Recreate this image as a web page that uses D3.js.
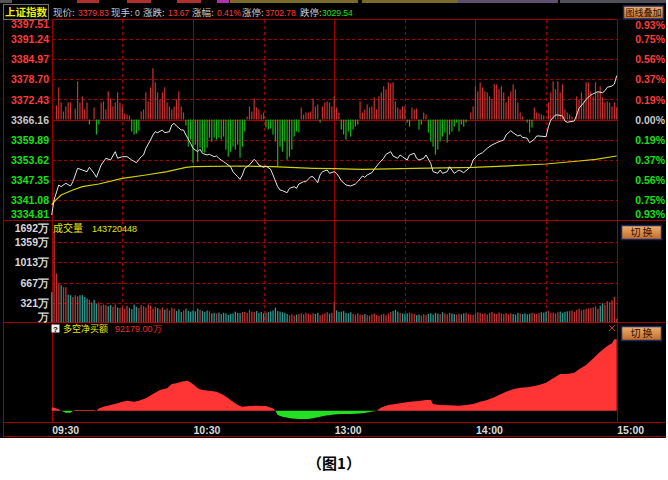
<!DOCTYPE html>
<html><head><meta charset="utf-8">
<script src="https://cdn.jsdelivr.net/npm/d3@7/dist/d3.min.js"></script>
<style>body{margin:0;background:#fff;}svg{display:block;}</style>
</head><body>
<svg id="c" width="668" height="480"></svg>
<script>
// ---------------- DATA ----------------
const instrument = "上证指数";
const quoteLabels = ["现价:", "现手:", "涨跌:", "涨幅:", "涨停:", "跌停:"];
const quoteValues = ["3379.83", "0", "13.67", "0.41%", "3702.78", "3029.54"];
const quoteTone = ["up", "flat", "up", "up", "up", "down"];

const preClose = 3366.16;
const priceTicks = [3397.51, 3391.24, 3384.97, 3378.70, 3372.43, 3366.16, 3359.89, 3353.62, 3347.35, 3341.08, 3334.81];
const pctTicks = ["0.93%", "0.75%", "0.56%", "0.37%", "0.19%", "0.00%", "0.19%", "0.37%", "0.56%", "0.75%", "0.93%"];
const timeTicks = [0, 60, 120, 180, 240];
const timeLabels = ["09:30", "10:30", "13:00", "14:00", "15:00"];
const gridMinutes = [30, 60, 90, 120, 150, 180, 210];

// [minute, price]
const pricePts = [[0,3336.37],[1,3341.05],[3,3345.73],[4,3345.20],[6,3346.26],[8,3345.42],[9,3346.76],[11,3350.94],[13,3350.41],[15,3349.88],[16,3351.25],[18,3349.38],[19,3348.13],[21,3351.97],[23,3354.06],[25,3353.53],[27,3356.12],[28,3354.06],[30,3354.56],[32,3354.56],[34,3353.53],[36,3352.68],[38,3354.56],[39,3355.09],[40,3357.18],[42,3359.77],[43,3361.33],[44,3362.36],[45,3362.04],[47,3362.89],[48,3362.04],[50,3362.36],[51,3364.44],[52,3364.98],[53,3364.13],[55,3362.89],[56,3362.89],[57,3361.33],[59,3358.74],[60,3357.18],[62,3356.12],[63,3356.86],[64,3355.62],[66,3355.09],[67,3355.31],[69,3354.56],[70,3354.77],[71,3354.06],[73,3353.00],[74,3352.50],[76,3351.44],[77,3349.88],[79,3348.32],[80,3347.51],[81,3348.85],[82,3350.94],[84,3351.97],[86,3353.75],[87,3353.00],[88,3351.97],[90,3351.25],[91,3351.66],[93,3350.63],[94,3348.85],[96,3345.20],[97,3344.17],[98,3343.95],[100,3343.33],[101,3344.70],[103,3345.20],[104,3344.70],[105,3346.04],[107,3346.76],[108,3346.76],[110,3348.32],[111,3348.32],[113,3346.45],[114,3348.85],[115,3349.88],[117,3350.41],[118,3349.38],[120,3349.88],[121,3349.38],[122,3348.32],[123,3347.07],[125,3345.73],[127,3345.42],[129,3346.04],[130,3346.76],[132,3348.54],[133,3348.13],[134,3348.85],[136,3349.57],[137,3350.63],[139,3352.50],[141,3354.06],[142,3355.31],[144,3356.12],[145,3354.77],[147,3354.06],[148,3355.09],[149,3354.56],[151,3353.53],[152,3355.09],[154,3355.62],[155,3354.06],[156,3353.53],[158,3354.06],[159,3355.09],[161,3352.50],[162,3349.88],[164,3349.38],[165,3350.41],[166,3349.38],[168,3349.88],[169,3351.44],[171,3349.38],[172,3349.88],[173,3350.41],[175,3349.57],[176,3350.19],[178,3351.44],[179,3353.53],[181,3355.09],[183,3355.80],[185,3357.18],[187,3358.21],[189,3358.92],[190,3359.24],[192,3359.77],[193,3361.33],[195,3362.67],[196,3362.04],[198,3361.01],[199,3361.33],[200,3360.61],[202,3360.30],[203,3358.92],[205,3359.98],[206,3361.01],[207,3361.01],[210,3360.80],[211,3363.91],[212,3366.00],[214,3367.56],[215,3367.56],[217,3367.25],[218,3365.69],[219,3365.29],[222,3365.69],[223,3367.56],[224,3369.65],[226,3371.40],[227,3372.46],[229,3373.80],[231,3374.52],[232,3374.83],[234,3374.52],[235,3375.14],[236,3376.21],[238,3376.61],[239,3377.23],[240,3379.83]];

// [minute, average price]
const avgPts = [[0,3339.5],[1,3340.52],[4,3342.61],[9,3344.17],[13,3345.20],[20,3346.04],[30,3347.82],[40,3348.85],[49,3349.88],[57,3351.25],[60,3351.44],[80,3351.66],[94,3351.44],[111,3350.94],[120,3350.81],[132,3350.63],[154,3350.94],[179,3351.25],[196,3351.75],[210,3352.28],[224,3353.21],[231,3353.74],[240,3354.78]];

// [minute, buy/sell strength]
const strengthPts = [[2,14],[3,32],[4,17],[5,8],[6,13],[7,17],[8,17],[10,11],[11,38],[12,17],[13,23],[14,10],[15,17],[16,-5],[18,12],[19,-15],[20,-5],[21,17],[22,18],[23,10],[24,28],[25,21],[26,13],[27,17],[28,27],[29,17],[30,13],[31,6],[32,5],[33,4],[34,-12],[35,-15],[36,-14],[37,-11],[38,8],[39,10],[40,27],[41,18],[42,32],[43,51],[44,37],[45,27],[46,20],[47,27],[48,32],[49,17],[50,13],[51,10],[52,13],[53,20],[54,28],[55,13],[56,7],[57,-6],[58,-27],[59,-20],[60,-43],[61,-25],[62,-42],[63,-28],[64,-32],[65,-33],[66,-28],[67,-18],[68,-22],[69,-18],[70,-20],[71,-18],[72,-20],[73,-17],[74,-30],[75,-37],[76,-32],[77,-27],[78,-30],[79,-25],[80,-38],[81,-27],[82,-12],[83,3],[84,13],[85,8],[86,21],[87,12],[88,10],[89,5],[90,7],[91,-8],[92,-10],[93,-9],[94,-15],[95,-22],[96,-47],[97,-27],[98,-32],[99,-22],[100,-40],[101,-37],[102,-30],[103,-17],[104,-12],[105,-13],[106,12],[107,5],[108,7],[109,7],[110,8],[111,21],[112,13],[113,15],[114,-3],[115,13],[116,17],[117,18],[118,17],[119,13],[120,23],[121,12],[122,7],[123,-10],[124,-15],[125,-20],[126,-12],[127,-17],[128,-10],[129,-7],[130,-5],[131,18],[132,7],[133,10],[134,15],[135,12],[136,13],[137,22],[138,10],[139,23],[140,27],[141,33],[142,30],[143,37],[144,36],[145,37],[146,18],[147,12],[148,10],[149,13],[150,13],[151,-3],[152,-7],[153,12],[154,10],[155,11],[156,-10],[157,-5],[158,7],[159,5],[160,-13],[161,-22],[162,-27],[163,-35],[164,-30],[165,-22],[166,-17],[167,-13],[168,-23],[169,-15],[170,-12],[171,-7],[172,-3],[173,-12],[174,-5],[175,-7],[176,-3],[178,7],[179,13],[180,33],[181,28],[182,37],[183,32],[184,28],[185,27],[186,23],[187,20],[188,35],[189,35],[190,30],[191,33],[192,27],[193,17],[194,23],[195,28],[196,35],[197,30],[198,17],[199,7],[200,3],[202,-3],[203,-13],[204,-8],[205,12],[206,7],[207,6],[208,5],[209,4],[211,17],[212,27],[213,38],[214,30],[215,38],[216,27],[217,35],[218,10],[219,7],[220,5],[221,3],[223,23],[224,20],[225,27],[226,18],[227,37],[228,37],[229,28],[230,23],[231,37],[232,27],[233,33],[234,22],[235,17],[236,18],[237,17],[238,13],[239,17],[240,12]];

// volume per minute (万)
const volumeTotal = "143720448";
const volTicks = [1692, 1359, 1013, 667, 321, 0];
const volLabels = ["1692万", "1359万", "1013万", "667万", "321万", "万"];
const volume = [508,1518,824,655,626,592,592,468,457,428,
457,440,457,457,428,400,380,333,380,310,
333,288,300,288,270,290,260,300,250,240,
265,230,280,245,220,300,260,240,290,270,
250,300,280,230,260,240,220,250,210,235,
200,245,230,190,220,175,200,231,190,180,
200,185,231,210,190,175,200,185,150,160,
150,165,140,160,150,125,140,150,180,160,
155,170,175,160,210,180,175,190,160,175,
150,165,170,185,200,248,190,180,170,160,
140,120,135,115,130,140,150,135,160,145,
130,150,140,160,120,135,150,170,145,160,
344,200,175,180,190,160,150,170,140,130,
150,130,125,140,120,115,135,150,125,110,
130,140,120,150,175,190,210,180,160,150,
140,150,165,150,140,120,130,115,135,125,
140,150,130,160,145,140,170,150,135,160,
150,140,130,145,135,150,160,140,130,125,
150,170,160,140,150,130,160,175,150,140,
165,150,140,155,135,150,140,130,160,150,
140,150,135,145,160,150,140,155,170,165,
175,190,160,165,150,170,180,160,175,185,
190,200,175,210,230,200,215,230,235,240,
250,270,230,280,320,300,355,340,372,428,
60];

// net buy amount (万), [minute, value]
const flowTitle = "多空净买额";
const flowLast = "92179.00万";
const flowPts = [[0,4260],[1,4260],[2,2970],[3,1720],[4,0],[5,-1300],[6,-2580],[8,-2580],[9,0],[10,900],[14,900],[18,900],[19,0],[20,2970],[22,5160],[25,7320],[28,9470],[30,11620],[32,12910],[35,11620],[37,12910],[40,15920],[43,21520],[46,26680],[49,28830],[51,34430],[53,35290],[55,37440],[57,38300],[58,38300],[60,34430],[62,28830],[64,26680],[67,25820],[70,24530],[73,20230],[76,13770],[79,7320],[81,5160],[84,6030],[87,6460],[91,6030],[94,3000],[95,0],[96,-5550],[98,-7750],[102,-9940],[105,-10720],[109,-10720],[112,-9040],[116,-6460],[120,-4780],[123,-4260],[127,-4260],[131,-3490],[134,-2190],[138,0],[140,4260],[143,7320],[148,9470],[152,11620],[156,12480],[159,13770],[161,13770],[162,8610],[165,7320],[169,6890],[173,6460],[176,7320],[179,8610],[182,11620],[185,13770],[188,17220],[190,20230],[193,24530],[196,27540],[199,29690],[202,30120],[205,31860],[207,33150],[210,36150],[213,41740],[216,47340],[219,47340],[222,49060],[224,53360],[227,58950],[230,67540],[233,76170],[236,83490],[238,86930],[239,92090],[240,92179]];

// ---------------- STYLE ----------------
const C = {
  bg: "#000", grid: "#a00000", up: "#ff3b3b", down: "#18e018", flat: "#c8c8c8",
  barUp: "#c83232", barDown: "#18b418", volUp: "#c03434", volDown: "#2a9a90",
  price: "#e6e6e6", avg: "#d0d000", yellow: "#e8e800", flowUp: "#ff3535", flowDown: "#22e022"
};
const CJK = "'Noto Sans CJK SC', sans-serif";
const NUM = "'Liberation Sans', Arial, sans-serif";

const svg = d3.select("#c");
const L = 51.7, R = 616.7;
const x = d3.scaleLinear().domain([0, 240]).range([L, R]);
const yP = d3.scaleLinear().domain([3334.81, 3397.51]).range([220, 19]);
const yS = d3.scaleLinear().domain([-100, 100]).range([220, 19]);
const yV = d3.scaleLinear().domain([0, 1692]).range([322.3, 222]);
const yF = d3.scaleLinear().domain([0, 92179]).range([410.7, 339.3]);

svg.append("rect").attr("x", 0).attr("y", 0).attr("width", 666).attr("height", 438).attr("fill", C.bg);

// top tab strip
const tabs = [[0,12,"#555"],[77,22,"#b03030"],[127,24,"#b03030"],[177,24,"#b03030"],[217,12,"#b030b0"],[230,128,"#7a6a2a"],[362,96,"#7a6a2a"],[458,100,"#605070"],[560,106,"#505058"]];
svg.selectAll("rect.tab").data(tabs).join("rect").attr("class","tab")
  .attr("x", d => d[0]).attr("y", 0).attr("width", d => d[1]).attr("height", 3).attr("fill", d => d[2]);

// ---------- grid ----------
const g = svg.append("g").attr("stroke", C.grid).attr("shape-rendering", "crispEdges");
function hline(y, x1, x2, dash) { g.append("line").attr("x1", x1).attr("x2", x2).attr("y1", y).attr("y2", y).attr("stroke-dasharray", dash || null); }
function vline(xx, y1, y2, dash) { g.append("line").attr("x1", xx).attr("x2", xx).attr("y1", y1).attr("y2", y2).attr("stroke-dasharray", dash || null); }

priceTicks.slice(1, -1).forEach(v => hline(Math.round(yP(v)) + 0.5, L, R, v === preClose ? null : "3,3"));
volTicks.slice(1, -1).forEach(v => hline(Math.round(yV(v)) + 0.5, L, R, "3,3"));
gridMinutes.forEach(m => {
  const xx = Math.round(x(m)) + 0.5, solid = m % 60 === 0;
  vline(xx, 19.5, 220.5, solid ? null : "3,3");
  vline(xx, 220.5, 322.5, solid ? null : "3,3");
});
hline(19.5, L, R);
hline(220.5, 3, 666);
hline(322.5, 3, 666);
hline(422.5, 3, 666);
hline(436.5, 3, 666);
vline(3.5, 19, 437);
vline(Math.round(L) + 0.5, 19.5, 422.5);
vline(Math.round(R) + 0.5, 19.5, 422.5);

// ---------- strength bars ----------
svg.append("g").selectAll("rect").data(strengthPts).join("rect")
  .attr("x", d => x(d[0]) - 0.6).attr("width", 1.2)
  .attr("y", d => Math.min(yS(d[1]), yS(0)))
  .attr("height", d => Math.abs(yS(d[1]) - yS(0)))
  .attr("fill", d => d[1] >= 0 ? C.barUp : C.barDown);

// ---------- lines ----------
const line = d3.line().x(d => x(d[0])).y(d => yP(d[1]));
svg.append("path").attr("d", line(avgPts)).attr("fill", "none").attr("stroke", C.avg).attr("stroke-width", 1.2);
svg.append("path").attr("d", line(pricePts)).attr("fill", "none").attr("stroke", C.price).attr("stroke-width", 1);

// ---------- volume ----------
const priceAt = d3.scaleLinear().domain(pricePts.map(d => d[0])).range(pricePts.map(d => d[1]));
svg.append("g").selectAll("rect").data(volume).join("rect")
  .attr("x", (d, i) => x(i) - 0.6).attr("width", 1.3)
  .attr("y", d => yV(d)).attr("height", d => yV(0) - yV(d))
  .attr("fill", (d, i) => (i > 0 && priceAt(i) >= priceAt(i - 1)) ? C.volUp : C.volDown);

// ---------- money flow ----------
const areaPos = d3.area().x(d => x(d[0])).y0(yF(0)).y1(d => yF(Math.max(0, d[1])));
const areaNeg = d3.area().x(d => x(d[0])).y0(yF(0)).y1(d => yF(Math.min(0, d[1])));
svg.append("path").attr("d", areaPos(flowPts)).attr("fill", C.flowUp);
svg.append("path").attr("d", areaNeg(flowPts)).attr("fill", C.flowDown);

// ---------- axes ----------
const toneOf = v => v > preClose + 0.001 ? C.up : (v < preClose - 0.001 ? C.down : C.flat);
const axL = svg.append("g").attr("transform", "translate(49,0)")
  .call(d3.axisLeft(yP).tickValues(priceTicks).tickSize(0).tickPadding(0).tickFormat(d3.format(".2f")));
axL.select(".domain").remove();
axL.selectAll("text").attr("fill", d => toneOf(d)).attr("font-family", NUM).attr("font-weight", "bold").attr("font-size", 10.5)
  .attr("dy", d => d === priceTicks[0] ? "0.85em" : d === priceTicks[priceTicks.length - 1] ? "-0.25em" : "0.35em");

const axR = svg.append("g").attr("transform", "translate(665,0)")
  .call(d3.axisLeft(yP).tickValues(priceTicks).tickSize(0).tickPadding(0).tickFormat((d, i) => pctTicks[i]));
axR.select(".domain").remove();
axR.selectAll("text").attr("fill", d => toneOf(d)).attr("font-family", NUM).attr("font-weight", "bold").attr("font-size", 10.5)
  .attr("dy", d => d === priceTicks[0] ? "0.9em" : d === priceTicks[priceTicks.length - 1] ? "-0.2em" : "0.35em");

const axV = svg.append("g").attr("transform", "translate(49,0)")
  .call(d3.axisLeft(yV).tickValues(volTicks).tickSize(0).tickPadding(0).tickFormat((d, i) => volLabels[i]));
axV.select(".domain").remove();
axV.selectAll("text").attr("fill", "#d8d8d8").attr("font-family", NUM).attr("font-weight", "bold").attr("font-size", 10.5)
  .attr("dy", d => d === volTicks[0] ? "0.9em" : d === 0 ? "-0.2em" : "0.35em");

const axT = svg.append("g").attr("transform", "translate(0,423)")
  .call(d3.axisBottom(x).tickValues(timeTicks).tickSize(0).tickPadding(0).tickFormat((d, i) => timeLabels[i]));
axT.select(".domain").remove();
axT.selectAll("text").attr("fill", "#d8d8d8").attr("font-family", NUM).attr("font-weight", "bold").attr("font-size", 10.5)
  .attr("text-anchor", "start").attr("dy", "1em");

// ---------- header ----------
svg.append("rect").attr("x", 3.5).attr("y", 4.5).attr("width", 45).attr("height", 15).attr("fill", "#000").attr("stroke", "#707070");
svg.append("text").attr("x", 26).attr("y", 16).attr("text-anchor", "middle").attr("fill", "#f0f000")
  .attr("font-family", CJK).attr("font-weight", "bold").attr("font-size", 10.5).text(instrument);
const labelX = [53, 111, 143, 192, 242, 300];
const valueX = [78, 135, 168, 217, 265, 322];
const toneColor = { up: C.up, down: C.down, flat: "#c8c8c8" };
quoteLabels.forEach((t, i) => {
  svg.append("text").attr("x", labelX[i]).attr("y", 16).attr("fill", "#c8c8c8").attr("font-family", CJK).attr("font-size", 9.5).text(t);
  svg.append("text").attr("x", valueX[i]).attr("y", 16).attr("fill", toneColor[quoteTone[i]]).attr("font-family", NUM).attr("font-size", 8.5).text(quoteValues[i]);
});

// buttons
const grad = svg.append("defs").append("linearGradient").attr("id", "btn").attr("x1", 0).attr("x2", 0).attr("y1", 0).attr("y2", 1);
grad.append("stop").attr("offset", 0).attr("stop-color", "#f0b070");
grad.append("stop").attr("offset", 1).attr("stop-color", "#c06a28");
function button(bx, by, w, h, label, fs) {
  svg.append("rect").attr("x", bx).attr("y", by).attr("width", w).attr("height", h).attr("fill", "url(#btn)").attr("stroke", "#1a2a60").attr("stroke-width", 1.5);
  svg.append("text").attr("x", bx + w / 2).attr("y", by + h / 2 + 3.5).attr("text-anchor", "middle").attr("fill", "#2a1200")
    .attr("font-family", CJK).attr("font-size", fs).text(label);
}
button(623.5, 6, 40, 13, "图线叠加", 9);
button(621.5, 225.5, 40, 14, "切 换", 10);
button(621.5, 326.5, 40, 14, "切 换", 10);

// volume title
svg.append("text").attr("x", 53).attr("y", 232).attr("fill", C.yellow).attr("font-family", CJK).attr("font-size", 10).text("成交量");
svg.append("text").attr("x", 92).attr("y", 232).attr("fill", C.yellow).attr("font-family", NUM).attr("font-size", 9).text(volumeTotal);

// flow title
svg.append("rect").attr("x", 51.5).attr("y", 324.5).attr("width", 8).attr("height", 8).attr("fill", "#f0f0f0");
svg.append("text").attr("x", 55.5).attr("y", 331.5).attr("text-anchor", "middle").attr("fill", "#000").attr("font-family", NUM).attr("font-weight", "bold").attr("font-size", 8).text("?");
svg.append("text").attr("x", 63).attr("y", 332).attr("fill", C.yellow).attr("font-family", CJK).attr("font-size", 9).text(flowTitle);
svg.append("text").attr("x", 115).attr("y", 332).attr("fill", "#e03030").attr("font-family", NUM).attr("font-size", 9).text(flowLast);
svg.append("path").attr("d", "M609,325L615,331M615,325L609,331").attr("stroke", "#c03030").attr("stroke-width", 1);

// caption
svg.append("text").attr("x", 334).attr("y", 469).attr("text-anchor", "middle").attr("fill", "#000")
  .attr("font-family", CJK).attr("font-weight", "bold").attr("font-size", 15).text("（图1）");
</script>
</body></html>
